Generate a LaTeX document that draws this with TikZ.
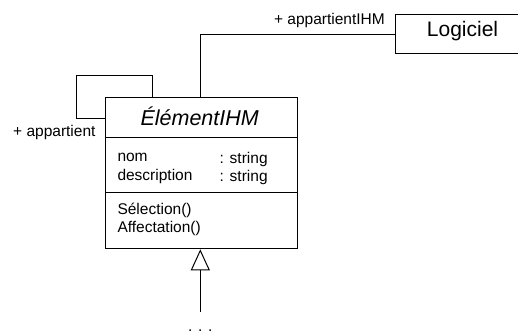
\documentclass[tikz,border=0pt]{standalone}
\usepackage{fontspec}
\setmainfont{Liberation Sans}
\usetikzlibrary{arrows.meta}
\tikzset{
  line/.style={draw=black, line width=1pt},
  small/.style={font=\fontsize{15.5}{18}\selectfont, inner sep=0pt},
  clsbox/.style={draw=black, line width=1pt, inner sep=0pt, rectangle},
}
\begin{document}
\begin{tikzpicture}[x=1pt,y=-1pt]
\clip (0,0) rectangle (518,334);
\fill[white] (0,0) rectangle (518,334);
% class box
\node[clsbox, anchor=north west, minimum width=191.4pt, minimum height=151.3pt] (cls) at (105.3,97) {};
\draw[line] (cls.west |- 0,137.3) -- (cls.east |- 0,137.3);
\draw[line] (cls.west |- 0,192.7) -- (cls.east |- 0,192.7);
\node[anchor=base, inner sep=0pt, font=\fontsize{21.5}{24}\selectfont\itshape] (clsname) at (199.7,125) {ÉlémentIHM};
\node[small, anchor=base west] (a1) at (117.3,161.7) {nom};
\node[small, anchor=base west] (a2) at (117.3,180) {description};
\node[small, anchor=base west] (t1) at (219.5,163.3) {: string};
\node[small, anchor=base west] (t2) at (219.5,181.7) {: string};
\node[small, anchor=base west] (m1) at (117.3,214) {Sélection()};
\node[small, anchor=base west] (m2) at (117.3,232) {Affectation()};
% Logiciel
\node[clsbox, anchor=north west, minimum width=140pt, minimum height=39.3pt] (log) at (395,14) {};
\node[anchor=base, inner sep=0pt, font=\fontsize{21}{24}\selectfont] (logname) at (462.5,36.7) {Logiciel};
% association to Logiciel
\coordinate (up) at (200.3,97);
\draw[line] (up) |- (log.west);
\node[small, anchor=base east] (r1) at (385,25) {+ appartientIHM};
% self association
\coordinate (loopA) at (152.3,97);
\coordinate (loopB) at (76.3,75.7);
\draw[line] (loopA) |- (loopB) |- (cls.west |- 0,118.3);
\node[small, anchor=base west] (r2) at (13,136.7) {+ appartient};
% generalization
\coordinate (gen) at (200.3,311.7);
\draw[line, -{Triangle[open, length=21pt, width=19pt]}] (gen) -- (gen |- cls.south);
\node[small, anchor=base, text depth=0pt] (dots) at (200.3,331) {.\hspace{5.7pt}.\hspace{5.7pt}.};
\end{tikzpicture}
\end{document}
